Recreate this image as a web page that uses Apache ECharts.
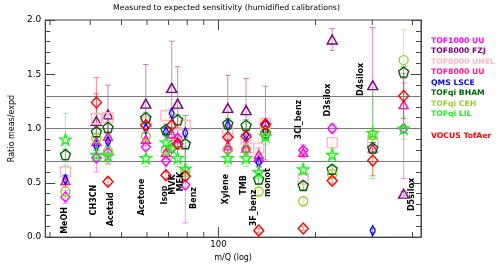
<!DOCTYPE html>
<html><head><meta charset="utf-8">
<script src="https://cdn.jsdelivr.net/npm/echarts@6/dist/echarts.min.js"></script>
<style>html,body{margin:0;padding:0;background:#fff}#c{width:500px;height:267px}</style>
</head><body><div id="c"></div>
<script>
// ---- data ----
const compounds = ['MeOH','CH3CN','Acetald','Acetone','Isop','MVK','MEK','Benz','Xylene','TMB','3F_benz','monot','3Cl_benz','D3silox','D4silox','D5silox'];
const massPos   = [33.5,41.8,45.4,59.5,68.7,71.6,74.7,78.9,106.9,121.8,133.3,139.9,183.2,225.3,301,375.4];
const labelPos  = [33.3,41.2,46.4,57.8,68.3,72.1,76.2,83.9,105.4,120.2,128.8,142.8,178.2,219.1,277.1,399.4];
const labelBase = [0.03,0.20,0.10,0.20,0.30,0.39,0.42,0.26,0.30,0.39,0.10,0.37,0.90,1.11,1.30,0.24];
const xTickVals = [30,40,50,60,70,80,90,100,200,300,400];
const refLines  = [0.7,1.0,1.3];

const instruments = ['TOF1000 UU','TOF8000 FZJ','TOF8000 UHEL','TOF8000 UU','QMS LSCE','TOFqi BHAM','TOFqi CEH','TOFqi LIL','VOCUS TofAer'];

const tof1000UU     = [0.37,0.73,0.78,0.83,0.70,0.82,0.91,0.48,0.80,0.81,0.70,1.03,0.80,1.00,null,1.00];
const tof1000UUErr  = [0.06,0.13,0.10,0.08,0.10,0.10,0.10,0.35,0.06,0.06,0.06,0.06,0.05,0.04,null,0.46];
const tof8000FZJ    = [null,1.07,1.13,1.23,null,1.375,1.23,null,1.19,1.17,null,1.05,null,1.82,1.40,0.40];
const tof8000FZJErr = [null,0.25,0.27,0.36,null,0.43,0.34,null,0.30,0.29,null,0.34,null,0.10,0.53,0.02];
const tof8000UHEL   = [0.60,1.09,1.10,1.06,1.12,null,0.95,1.03,0.97,0.905,0.82,1.05,0.535,0.87,0.87,null];
const tof8000UHELErr= [0.04,0.24,0.05,0.05,0.21,null,0.05,0.05,0.05,0.05,0.13,0.10,0.05,0.05,0.05,null];
const tof8000UU     = [0.52,0.88,0.93,0.90,0.78,0.95,0.87,null,0.84,0.82,0.76,1.00,0.78,null,0.82,1.22];
const tof8000UUErr  = [0.05,0.08,0.15,0.06,0.06,0.06,0.06,null,0.06,0.06,0.06,0.06,0.05,null,0.05,0.20];
const qmsLSCE       = [0.53,0.84,0.88,1.00,0.97,1.14,null,0.96,1.03,0.94,0.69,0.98,null,null,0.06,null];
const qmsLSCEErr    = [0.04,0.04,0.04,0.04,0.04,0.04,null,0.04,0.04,0.04,0.04,0.04,null,null,0.02,null];
const tofqiBHAM     = [0.76,0.97,1.01,1.10,0.99,null,1.08,0.86,1.045,1.03,0.535,0.96,0.476,0.625,0.82,1.52];
const tofqiBHAMErr  = [0.05,0.05,0.05,0.05,0.05,null,0.05,0.26,0.05,0.05,0.05,0.05,0.04,0.04,0.05,0.05];
const tofqiCEH      = [0.42,0.91,0.79,0.93,0.80,null,null,0.60,0.81,0.81,0.42,0.97,0.33,0.58,0.94,1.63];
const tofqiCEHErr   = [0.04,0.04,0.04,0.04,0.04,null,null,0.04,0.04,0.04,0.04,0.04,0.04,0.04,0.04,0.28];
const tofqiLIL      = [0.90,0.76,0.75,0.73,0.875,0.82,0.73,0.63,0.73,0.73,0.60,0.93,0.625,0.76,0.96,1.00];
const tofqiLILErr   = [0.24,0.08,0.08,0.08,0.08,0.08,0.08,0.10,0.08,0.08,0.06,0.08,0.05,0.05,0.42,0.10];
const vocus         = [null,1.24,0.51,1.03,0.57,1.03,0.86,0.56,0.92,0.93,0.06,1.04,0.08,0.52,0.705,1.30];
const vocusErr      = [null,0.23,0.03,0.03,0.03,0.03,0.03,0.03,0.03,0.03,0.02,0.03,0.02,0.03,0.14,0.21];

// ---- styles ----
const STAR = 'path://M50,0 L61,35 L98,35 L68,57 L79,91 L50,70 L21,91 L32,57 L2,35 L39,35 Z';
const PENT = 'path://M50,0 L98,35 L79,91 L21,91 L2,35 Z';
const styles = [
  {c:'#FF00FF', sym:'diamond', size:[9,10]},
  {c:'#800080', sym:'triangle', size:[10,9]},
  {c:'#FFB6C1', sym:'rect', size:[10,10]},
  {c:'#FF1493', sym:'triangle', size:[9,8]},
  {c:'#0000FF', sym:'diamond', size:[5,10]},
  {c:'#006400', sym:PENT, size:[10,10]},
  {c:'#9ACD32', sym:'circle', size:[9,9]},
  {c:'#22EE22', sym:STAR, size:[11,11]},
  {c:'#FF0000', sym:'diamond', size:[10,11]}
];
const vals = [tof1000UU,tof8000FZJ,tof8000UHEL,tof8000UU,qmsLSCE,tofqiBHAM,tofqiCEH,tofqiLIL,vocus];
const errs = [tof1000UUErr,tof8000FZJErr,tof8000UHELErr,tof8000UUErr,qmsLSCEErr,tofqiBHAMErr,tofqiCEHErr,tofqiLILErr,vocusErr];

const FONT = '"DejaVu Sans", sans-serif';
const series = [];

// reference lines
series.push({type:'scatter', data:[], silent:true, z:1,
  markLine:{silent:true, symbol:['none','none'], label:{show:false},
    lineStyle:{color:'#7a7a7a', type:'solid', width:1},
    data: refLines.map(v=>({yAxis:v}))}});

// x ticks (top and bottom)
series.push({type:'custom', silent:true, z:2, data: xTickVals.map(v=>[v]),
  encode:{x:0},
  renderItem:(p, api)=>{
    const v = api.value(0);
    const b = api.coord([v,0]), t = api.coord([v,2]);
    const len = Math.abs(v-100)<1e-6 ? 10 : 5;
    const st = {stroke:'#444', lineWidth:1};
    return {type:'group', children:[
      {type:'line', shape:{x1:b[0],y1:b[1],x2:b[0],y2:b[1]-len}, style:st},
      {type:'line', shape:{x1:t[0],y1:t[1],x2:t[0],y2:t[1]+len}, style:st}
    ]};
  }});

// error bars
vals.forEach((arr, k)=>{
  const data = [];
  arr.forEach((v,i)=>{ if(v!=null && errs[k][i]!=null) data.push([massPos[i], v-errs[k][i], v+errs[k][i]]); });
  series.push({type:'custom', silent:true, z:3, data, encode:{x:0, y:[1,2]},
    renderItem:(p, api)=>{
      const x = api.value(0);
      const a = api.coord([x, api.value(2)]), b = api.coord([x, api.value(1)]);
      const w = 3;
      const st = {stroke: styles[k].c, lineWidth:1, opacity:0.45};
      return {type:'group', children:[
        {type:'line', shape:{x1:a[0],y1:a[1],x2:b[0],y2:b[1]}, style:st},
        {type:'line', shape:{x1:a[0]-w,y1:a[1],x2:a[0]+w,y2:a[1]}, style:st},
        {type:'line', shape:{x1:b[0]-w,y1:b[1],x2:b[0]+w,y2:b[1]}, style:st}
      ]};
    }});
});

// markers
vals.forEach((arr, k)=>{
  const data = [];
  arr.forEach((v,i)=>{ if(v!=null) data.push([massPos[i], v]); });
  series.push({type:'scatter', name:instruments[k], z:5+k, data,
    symbol: styles[k].sym, symbolSize: styles[k].size,
    itemStyle:{color:'rgba(0,0,0,0)', borderColor:styles[k].c, borderWidth:1.4, opacity:1}});
});

// compound labels
series.push({type:'custom', silent:true, z:20,
  data: compounds.map((c,i)=>[labelPos[i], labelBase[i]]), encode:{x:0,y:1},
  renderItem:(p, api)=>{
    const pt = api.coord([api.value(0), api.value(1)]);
    return {type:'text', x:pt[0], y:pt[1], rotation:Math.PI/2,
      style:{text:compounds[p.dataIndex], fill:'#000', font:'bold 8px ' + FONT, align:'left', verticalAlign:'middle'}};
  }});

const legendY = [41,51.5,62,72.3,83,93.5,104,114.5,136];
const graphic = instruments.map((n,i)=>({type:'text', x:431, y:legendY[i],
  style:{text:n, fill:styles[i].c, font:'bold 7.7px ' + FONT, align:'left', verticalAlign:'middle'}}));
graphic.push({type:'text', x:226.5, y:8, style:{text:'Measured to expected sensitivity (humidified calibrations)', fill:'#000', font:'7.8px ' + FONT, align:'center', verticalAlign:'middle'}});

const yCommon = {type:'value', min:0, max:2, interval:0.5,
  axisLine:{show:true, lineStyle:{color:'#444', width:1}},
  axisTick:{show:true, inside:true, length:10, lineStyle:{color:'#444'}},
  minorTick:{show:true, splitNumber:5, length:5, lineStyle:{color:'#444'}},
  splitLine:{show:false}};

const chart = echarts.init(document.getElementById('c'), null, {renderer:'canvas'});
chart.setOption({
  animation:false,
  backgroundColor:'#fff',
  grid:{left:32, right:79, top:20, bottom:23, show:true, borderColor:'#444', borderWidth:1, backgroundColor:'transparent'},
  xAxis:{type:'log', logBase:10, min:29, max:425,
    axisLine:{show:true, lineStyle:{color:'#444'}}, axisTick:{show:false}, splitLine:{show:false}, minorTick:{show:false},
    axisLabel:{formatter:v=>Math.abs(v-100)<1e-6?'100':'', color:'#000', fontSize:8.5, fontFamily:'DejaVu Sans', margin:3, showMinLabel:false, showMaxLabel:false},
    name:'m/Q (log)', nameLocation:'middle', nameGap:13, nameTextStyle:{color:'#000', fontSize:8, fontFamily:'DejaVu Sans'}},
  yAxis:[
    Object.assign({}, yCommon, {position:'left',
      axisLabel:{formatter:v=>v.toFixed(1), color:'#000', fontSize:9, fontFamily:'DejaVu Sans', margin:4},
      name:'Ratio meas/expd', nameLocation:'middle', nameGap:23, nameTextStyle:{color:'#000', fontSize:8, fontFamily:'DejaVu Sans'}}),
    Object.assign({}, yCommon, {position:'right', axisLabel:{show:false}})
  ],
  graphic,
  series
});
</script></body></html>
